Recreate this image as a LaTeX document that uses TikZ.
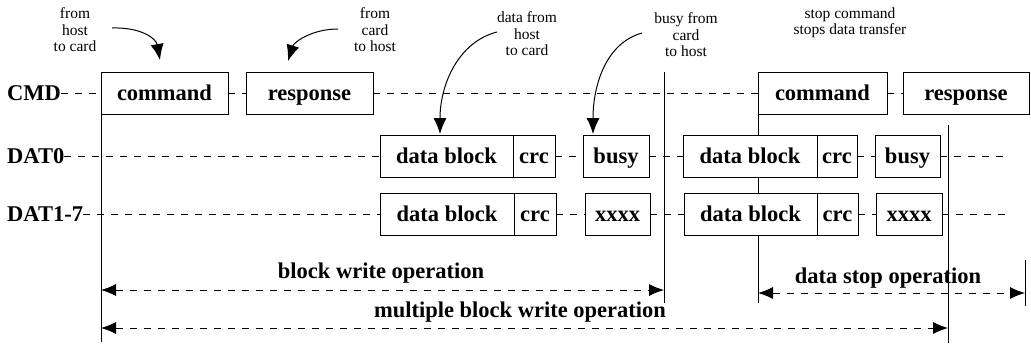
\documentclass[tikz,border=0pt]{standalone}
\usepackage{fontspec}
\setmainfont{Liberation Serif}
\usetikzlibrary{arrows.meta}
\begin{document}
\begin{tikzpicture}[x=1pt,y=-1pt,
  big/.style={font=\bfseries\fontsize{22.5}{27}\selectfont},
  box/.style={big, draw, fill=white, line width=0.9pt, inner sep=0pt,
    minimum height=42pt, text height=15pt, text depth=0pt},
  sig/.style={big, inner sep=0pt, anchor=west, text height=15pt, text depth=0pt},
  note/.style={font=\fontsize{15.5}{16.5}\selectfont, align=center, inner sep=0pt},
  optext/.style={big, inner sep=0pt},
  dashline/.style={line width=0.9pt, dash pattern=on 7pt off 7pt},
  rule/.style={line width=0.9pt},
  span/.style={line width=0.9pt, dash pattern=on 7pt off 7pt,
    {Latex[length=15pt,width=12pt]}-{Latex[length=15pt,width=12pt]}},
  pointer/.style={line width=1pt, -{Latex[length=16pt,width=13pt]}}
]
\useasboundingbox (0,0) rectangle (1031,346);

% signal names
\node[sig] (cmdl) at (7,93) {CMD};
\node[sig] (d0l) at (7,156) {DAT0};
\node[sig] (d1l) at (7,214) {DAT1-7};

% time markers
\coordinate (v1t) at (101,72);  \coordinate (v1b) at (101,342);
\coordinate (v2t) at (664,72);  \coordinate (v2b) at (664,303);
\coordinate (v3t) at (758,114); \coordinate (v3b) at (758,303);
\coordinate (v4t) at (948,125); \coordinate (v4b) at (948,343);
\coordinate (v5t) at (1025,260); \coordinate (v5b) at (1025,306);
\foreach \i in {1,...,5} \draw[rule] (v\i t) -- (v\i b);

% CMD line
\node[box, minimum width=127pt] (cmd1) at (164.5,93) {command};
\node[box, minimum width=127pt] (rsp1) at (309.5,93) {response};
\node[box, minimum width=129pt] (cmd2) at (822.5,93) {command};
\node[box, minimum width=126pt] (rsp2) at (966,93) {response};

% DAT0 line
\node[box, minimum width=133pt] (db1) at (446.5,156) {data block};
\node[box, minimum width=42pt]  (crc1) at (534,156) {crc};
\node[box, minimum width=66pt]  (busy1) at (616,156) {busy};
\node[box, minimum width=134pt] (db2) at (750,156) {data block};
\node[box, minimum width=40pt]  (crc2) at (837,156) {crc};
\node[box, minimum width=65pt]  (busy2) at (907.5,156) {busy};
\coordinate (d0end) at (1010,156);

% DAT1-7 lines
\node[box, minimum width=134pt] (db3) at (447,214) {data block};
\node[box, minimum width=42pt]  (crc3) at (535,214) {crc};
\node[box, minimum width=65pt]  (xx1) at (617.5,214) {xxxx};
\node[box, minimum width=133pt] (db4) at (750.5,214) {data block};
\node[box, minimum width=41pt]  (crc4) at (837.5,214) {crc};
\node[box, minimum width=66pt]  (xx2) at (909,214) {xxxx};
\coordinate (d1end) at (1010,214);

% idle stretches
\draw[dashline] (cmdl.east) -- (cmd1.west);
\draw[dashline] (cmd1.east) -- (rsp1.west);
\draw[dashline] (rsp1.east) -- (cmd2.west);
\draw[dashline] (cmd2.east) -- (rsp2.west);
\draw[dashline] (d0l.east) -- (db1.west);
\draw[dashline] (crc1.east) -- (busy1.west);
\draw[dashline] (busy1.east) -- (db2.west);
\draw[dashline] (crc2.east) -- (busy2.west);
\draw[dashline] (busy2.east) -- (d0end);
\draw[dashline] (d1l.east) -- (db3.west);
\draw[dashline] (crc3.east) -- (xx1.west);
\draw[dashline] (xx1.east) -- (db4.west);
\draw[dashline] (crc4.east) -- (xx2.west);
\draw[dashline] (xx2.east) -- (d1end);

% direction notes
\node[note] (n1) at (75,30) {from\\host\\to card};
\node[note] (n2) at (375,30) {from\\card\\to host};
\node[note] (n3) at (527,34) {data from\\host\\to card};
\node[note] (n4) at (686,35) {busy from\\card\\to host};
\node[note] (n5) at (850,23) {stop command\\stops data transfer};

\coordinate (a1s) at (112,28);  \coordinate (a1e) at (160,60);
\coordinate (a2s) at (338,29);  \coordinate (a2e) at (288,61);
\coordinate (a3s) at (497,32);  \coordinate (a3e) at (440,134);
\coordinate (a4s) at (642,33);  \coordinate (a4e) at (593,134);
\draw[pointer] (a1s) .. controls (140,27) and (156,38) .. (a1e);
\draw[pointer] (a2s) .. controls (312,29) and (294,42) .. (a2e);
\draw[pointer] (a3s) .. controls (458,42) and (440,85) .. (a3e);
\draw[pointer] (a4s) .. controls (606,43) and (593,85) .. (a4e);

% operation spans
\coordinate (bwl) at (101,290); \coordinate (bwr) at (664,290);
\coordinate (dsl) at (758,293); \coordinate (dsr) at (1025,293);
\coordinate (mbl) at (101,328); \coordinate (mbr) at (948,328);
\draw[span] (bwl) -- (bwr);
\draw[span] (dsl) -- (dsr);
\draw[span] (mbl) -- (mbr);
\node[optext] (t1) at (381,273) {block write operation};
\node[optext] (t2) at (888,278) {data stop operation};
\node[optext] (t3) at (520,312) {multiple block write operation};
\end{tikzpicture}
\end{document}
